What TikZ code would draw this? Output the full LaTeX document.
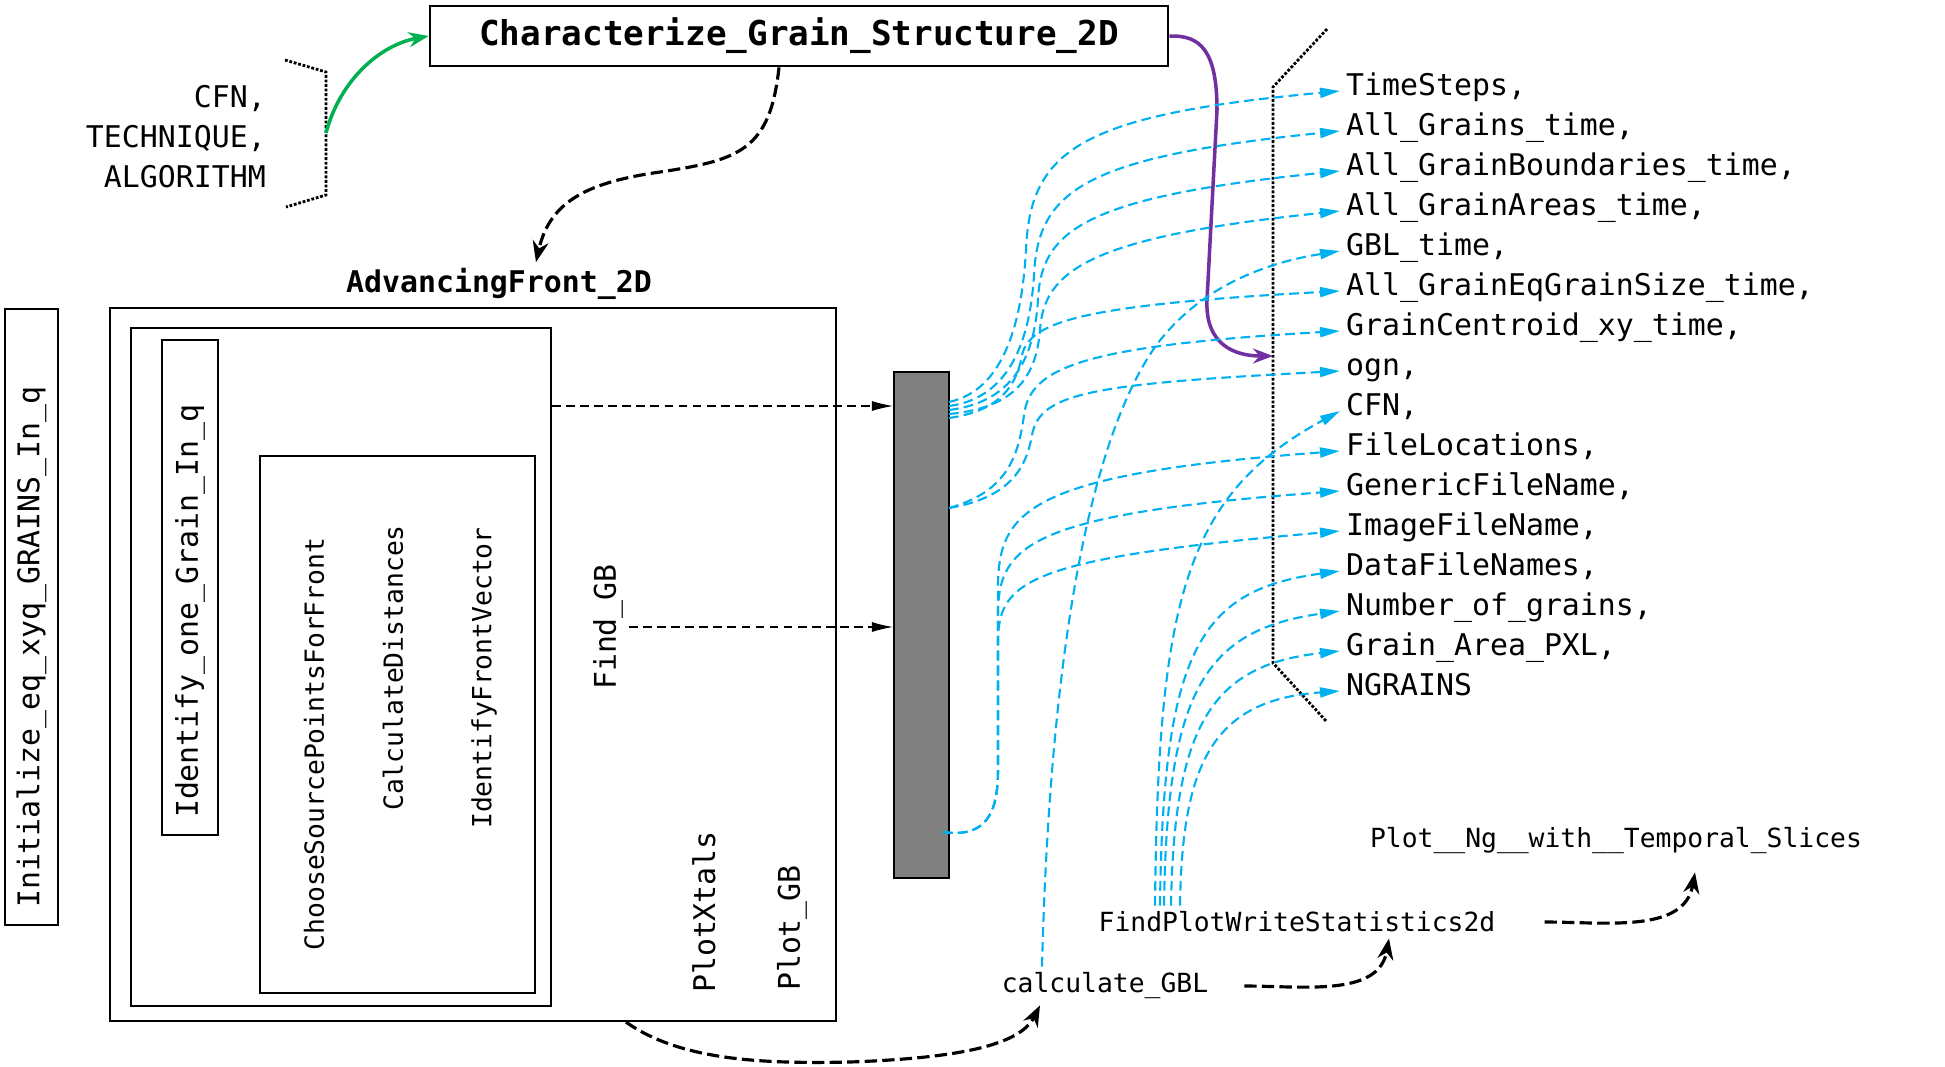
\documentclass[tikz,border=0pt]{standalone}
\usepackage{fontspec}
\setmainfont{DejaVu Sans Mono}
\usetikzlibrary{arrows.meta}
\definecolor{flowblue}{RGB}{0,176,240}
\definecolor{arrowgreen}{RGB}{0,176,80}
\definecolor{arrowpurple}{RGB}{112,48,160}
\definecolor{bargray}{RGB}{128,128,128}
\newcommand{\fnorm}{\fontsize{17}{22.8}\selectfont}
\newcommand{\fsmall}{\fontsize{15}{18}\selectfont}
\newcommand{\ftitle}{\bfseries\fontsize{19.5}{24}\selectfont}
\tikzset{
  boxline/.style={draw, line width=1.3pt},
  vlabel/.style={rotate=90, font=\fnorm},
  vsmall/.style={rotate=90, font=\fsmall},
  vbox/.style={boxline, rotate=90, font=\fnorm, inner xsep=0.34cm, align=left},
  rowitem/.style={anchor=west, font=\fnorm, text height=0.75em, text depth=0.25em},
  flowline/.style={flowblue, line width=1.2pt, dash pattern=on 5.5pt off 3pt, -{Triangle[length=0.4cm,width=0.2cm]}},
  datalink/.style={black, line width=0.6pt, dash pattern=on 5pt off 3pt, -{Latex[length=0.42cm,width=0.2cm]}},
  calllink/.style={black, line width=1.8pt, dash pattern=on 7pt off 3pt, -{Stealth[length=0.42cm,width=0.32cm]}},
  dotline/.style={black, line width=1.6pt, densely dotted}
}
\begin{document}
\begin{tikzpicture}[x=0.02cm, y=-0.02cm]
    \useasboundingbox (0,0) rectangle (1945,1066);

    % Top routine and its inputs
    \node[draw, line width=1.6pt, font=\ftitle, minimum width=14.76cm, minimum height=1.2cm] (top) at (799,36) {Characterize\_Grain\_Structure\_2D};
    \node[anchor=east, align=right, font=\fnorm] (params) at (272,137) {CFN,\\TECHNIQUE,\\ALGORITHM};
    \draw[dotline] (285,60) -- (326,72) -- (326,195) -- (286,207);
    \coordinate (pin) at (326,133);
    \draw[line width=2pt, arrowgreen, -{Stealth[length=0.4cm,width=0.3cm]}] (pin) .. controls (340,80) and (380,45) .. (top.west);

    % AdvancingFront_2D
    \node[font=\bfseries\fnorm] (advlbl) at (499,284) {AdvancingFront\_2D};
    \node[boxline, minimum width=14.52cm, minimum height=14.26cm] (adv) at (473,664.5) {};
    \node[boxline, minimum width=8.4cm, minimum height=13.56cm] (grainbox) at (341,667) {};
    \node[vbox, text width=9.22cm, minimum height=1.12cm] (idgrain) at (190,587.5) {Identify\_one\_Grain\_In\_q};
    \node[boxline, minimum width=5.5cm, minimum height=10.74cm] (frontbox) at (397.5,724.5) {};
    \node[vsmall] (choose) at (314,744) {ChooseSourcePointsForFront};
    \node[vsmall] (dist) at (393,668) {CalculateDistances};
    \node[vsmall] (fvec) at (484,678) {IdentifyFrontVector};
    \node[vlabel] (findgb) at (608,627) {Find\_GB};
    \node[vlabel] (xtals) at (704,912) {PlotXtals};
    \node[vlabel] (plotgb) at (792,928) {Plot\_GB};

    % Initializer
    \node[vbox, text width=11.64cm, minimum height=1.06cm] (init) at (31.5,617) {Initialize\_eq\_xyq\_GRAINS\_In\_q};

    % Output bar
    \node[draw, line width=1.2pt, fill=bargray, minimum width=1.1cm, minimum height=10.12cm, inner sep=0] (bar) at (921.5,625) {};
    \draw[datalink] (grainbox.east |- 0,406) -- (bar.west |- 0,406);
    \draw[datalink] (findgb.south) -- (bar.west |- findgb.south);

    % Outputs
    \node[rowitem] (r0) at (1340,91) {TimeSteps,};
    \node[rowitem] (r1) at (1340,131) {All\_Grains\_time,};
    \node[rowitem] (r2) at (1340,171) {All\_GrainBoundaries\_time,};
    \node[rowitem] (r3) at (1340,211) {All\_GrainAreas\_time,};
    \node[rowitem] (r4) at (1340,251) {GBL\_time,};
    \node[rowitem] (r5) at (1340,291) {All\_GrainEqGrainSize\_time,};
    \node[rowitem] (r6) at (1340,331) {GrainCentroid\_xy\_time,};
    \node[rowitem] (r7) at (1340,371) {ogn,};
    \node[rowitem] (r8) at (1340,411) {CFN,};
    \node[rowitem] (r9) at (1340,451) {FileLocations,};
    \node[rowitem] (r10) at (1340,491) {GenericFileName,};
    \node[rowitem] (r11) at (1340,531) {ImageFileName,};
    \node[rowitem] (r12) at (1340,571) {DataFileNames,};
    \node[rowitem] (r13) at (1340,611) {Number\_of\_grains,};
    \node[rowitem] (r14) at (1340,651) {Grain\_Area\_PXL,};
    \node[rowitem] (r15) at (1340,691) {NGRAINS};
    \draw[dotline] (1327,29) -- (1273,87) -- (1273,663) -- (1327,722);
    \coordinate (ognin) at (1273,356);
    \draw[line width=2pt, arrowpurple, -{Stealth[length=0.4cm,width=0.3cm]}] (top.east) .. controls (1200,35) and (1217,50) .. (1217,110) -- (1207,300) .. controls (1205,345) and (1235,356) .. (ognin);

    % Lower routines
    \node[font=\fsmall] (calc) at (1105,986) {calculate\_GBL};
    \node[font=\fsmall] (fpw) at (1297,922) {FindPlotWriteStatistics2d};
    \node[font=\fsmall] (ngplot) at (1616,841) {Plot\_\_Ng\_\_with\_\_Temporal\_Slices};

    % Calls
    \draw[calllink] ([xshift=-0.4cm]top.south) .. controls (770,150) and (740,160) .. (660,172) .. controls (590,182) and (550,200) .. ([xshift=0.74cm]advlbl.north);
    \draw[calllink] ([xshift=3.06cm]adv.south) .. controls (680,1060) and (760,1064) .. (850,1062) .. controls (960,1058) and (1020,1045) .. ([xshift=-1.3cm]calc.south);
    \draw[calllink] ([xshift=0.6cm]calc.east) to[out=0,in=-100] ([xshift=1.84cm]fpw.south);
    \draw[calllink] ([xshift=0.86cm]fpw.east) to[out=0,in=-100] ([xshift=1.58cm,yshift=-0.24cm]ngplot.south);

    % Data from the bar (upper)
    \coordinate (bhi) at (949,410);
    \draw[flowline] ([yshift=0.16cm]bhi) .. controls (1005,390) and (1022,320) .. (1026,250) .. controls (1030,150) and (1080,115) .. (r0.west);
    \draw[flowline] ([yshift=0.08cm]bhi) .. controls (1010,398) and (1030,340) .. (1034,275) .. controls (1038,190) and (1085,157) .. (r1.west);
    \draw[flowline] (bhi) .. controls (1012,402) and (1034,360) .. (1038,300) .. controls (1041,230) and (1085,197) .. (r2.west);
    \draw[flowline] ([yshift=-0.08cm]bhi) .. controls (1012,408) and (1036,380) .. (1040,330) .. controls (1044,270) and (1090,237) .. (r3.west);
    \draw[flowline] ([yshift=-0.16cm]bhi) .. controls (990,412) and (1015,395) .. (1022,355) .. controls (1030,322) and (1080,305) .. (r5.west);

    % Data from the bar (middle)
    \coordinate (bmid) at (949,508);
    \draw[flowline] (bmid) .. controls (1005,492) and (1018,460) .. (1024,415) .. controls (1030,368) and (1080,346) .. (r6.west);
    \draw[flowline] (bmid) .. controls (1008,498) and (1026,470) .. (1032,435) .. controls (1040,393) and (1090,384) .. (r7.west);

    % Data from the bar (lower)
    \coordinate (blo) at (943,832);
    \draw[flowline] (blo) .. controls (985,838) and (998,815) .. (998,770) -- (998,585) .. controls (999,510) and (1030,474) .. (r9.west);
    \draw[flowline] (blo) .. controls (985,838) and (998,815) .. (998,770) -- (998,612) .. controls (999,545) and (1030,514) .. (r10.west);
    \draw[flowline] (blo) .. controls (985,838) and (998,815) .. (998,770) -- (998,640) .. controls (999,580) and (1030,558) .. (r11.west);

    % Data from calculate_GBL
    \draw[flowline] ([xshift=-1.26cm]calc.north) .. controls (1050,650) and (1090,440) .. (1155,347) .. controls (1200,285) and (1270,262) .. (r4.west);

    % Data from FindPlotWriteStatistics2d
    \draw[flowline] ([xshift=-2.84cm]fpw.north) .. controls (1158,600) and (1185,495) .. (r8.west);
    \draw[flowline] ([xshift=-2.74cm]fpw.north) .. controls (1163,650) and (1200,590) .. (r12.west);
    \draw[flowline] ([xshift=-2.66cm]fpw.north) .. controls (1167,690) and (1205,630) .. (r13.west);
    \draw[flowline] ([xshift=-2.52cm]fpw.north) .. controls (1174,725) and (1212,665) .. (r14.west);
    \draw[flowline] ([xshift=-2.34cm]fpw.north) .. controls (1182,760) and (1215,700) .. (r15.west);
\end{tikzpicture}
\end{document}
